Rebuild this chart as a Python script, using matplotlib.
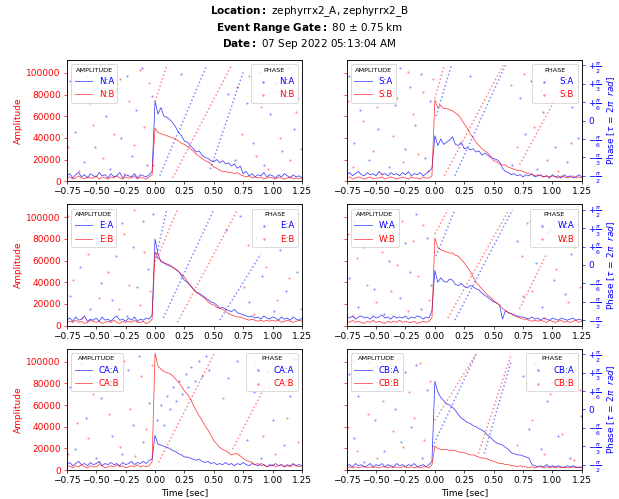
import matplotlib.pyplot as plt
import numpy as np

# sample times of the amplitude traces [sec]
time_sec = [-0.75, -0.725, -0.7, -0.675, -0.65, -0.625, -0.6, -0.575, -0.55, -0.525,
            -0.5, -0.475, -0.45, -0.425, -0.4, -0.375, -0.35, -0.325, -0.3, -0.275,
            -0.25, -0.225, -0.2, -0.175, -0.15, -0.125, -0.1, -0.075, -0.05, -0.025,
            0.0, 0.025, 0.05, 0.075, 0.1, 0.125, 0.15, 0.175, 0.2, 0.225,
            0.25, 0.275, 0.3, 0.325, 0.35, 0.375, 0.4, 0.425, 0.45, 0.475,
            0.5, 0.525, 0.55, 0.575, 0.6, 0.625, 0.65, 0.675, 0.7, 0.725,
            0.75, 0.775, 0.8, 0.825, 0.85, 0.875, 0.9, 0.925, 0.95, 0.975,
            1.0, 1.025, 1.05, 1.075, 1.1, 1.125, 1.15, 1.175, 1.2, 1.225, 1.25]

# amplitudes in thousands
n_a_amp = [5, 7, 3, 6, 8, 4, 6, 3, 7, 5,
           4, 8, 5, 6, 3, 7, 4, 5, 8, 3,
           6, 5, 4, 7, 3, 6, 5, 4, 6, 9, 74,
           62, 68, 60, 59, 57, 54, 50, 45, 42, 37,
           36, 33, 30, 27, 28, 24, 22, 21, 19, 18,
           20, 17, 19, 16, 17, 14, 16, 12, 14, 7,
           9, 5, 7, 4, 6, 5, 8, 4, 6, 5,
           3, 6, 4, 7, 5, 3, 6, 4, 5, 3]
n_b_amp = [3, 4, 2, 3, 5, 3, 2, 4, 3, 3,
           5, 2, 4, 3, 2, 4, 3, 5, 3, 2,
           4, 3, 3, 5, 2, 4, 3, 2, 4, 6, 49,
           45, 44, 43, 42, 41, 40, 39, 37, 35, 34,
           32, 30, 28, 25, 23, 21, 19, 18, 16, 13,
           12, 10, 9, 9, 8, 8, 7, 8, 6, 5,
           4, 5, 3, 4, 3, 4, 2, 3, 4, 3,
           2, 4, 3, 2, 3, 4, 2, 3, 2, 3]
s_a_amp = [6, 8, 5, 7, 9, 6, 5, 8, 6, 7,
           5, 9, 6, 7, 5, 8, 6, 7, 5, 8,
           6, 9, 5, 7, 6, 8, 5, 7, 9, 12, 42,
           33, 39, 34, 36, 38, 41, 34, 33, 36, 30,
           31, 29, 30, 27, 28, 24, 26, 24, 22, 21,
           20, 18, 12, 9, 8, 6, 7, 5, 6, 4,
           6, 5, 7, 4, 5, 6, 4, 5, 3, 6,
           4, 5, 3, 6, 4, 5, 3, 4, 6, 4]
s_b_amp = [3, 4, 2, 3, 4, 3, 2, 3, 4, 2,
           3, 3, 4, 2, 3, 4, 3, 2, 3, 4,
           3, 2, 4, 3, 3, 2, 4, 3, 3, 5, 75,
           68, 70, 67, 67, 66, 65, 63, 61, 57, 53,
           49, 44, 40, 36, 33, 30, 28, 26, 23, 19,
           18, 16, 15, 15, 13, 12, 11, 10, 10, 9,
           8, 7, 6, 5, 6, 5, 4, 5, 4, 5,
           4, 3, 5, 4, 3, 4, 5, 3, 4, 3]
e_a_amp = [5, 7, 4, 8, 5, 6, 9, 4, 6, 5,
           7, 4, 8, 5, 6, 4, 7, 9, 5, 6,
           4, 7, 5, 8, 4, 6, 5, 7, 6, 10, 80,
           66, 59, 58, 56, 55, 54, 52, 50, 46, 42,
           40, 37, 34, 31, 30, 28, 26, 24, 22, 21,
           19, 16, 17, 15, 14, 13, 15, 12, 11, 10,
           9, 8, 9, 7, 8, 6, 9, 7, 6, 8,
           7, 5, 8, 6, 7, 5, 8, 6, 5, 7]
e_b_amp = [3, 4, 3, 5, 3, 4, 2, 3, 5, 4,
           3, 4, 2, 3, 4, 3, 5, 3, 2, 4,
           3, 4, 3, 5, 3, 3, 4, 2, 3, 6, 68,
           62, 60, 58, 57, 56, 54, 52, 50, 47, 45,
           41, 37, 34, 31, 29, 27, 25, 22, 20, 19,
           17, 16, 15, 13, 11, 10, 9, 8, 8, 7,
           6, 5, 6, 5, 4, 5, 4, 5, 4, 5,
           4, 5, 3, 4, 5, 4, 3, 4, 5, 4]
w_a_amp = [8, 7, 9, 6, 8, 9, 7, 8, 6, 9,
           7, 8, 10, 7, 8, 6, 9, 7, 8, 7,
           9, 6, 8, 7, 9, 8, 6, 8, 7, 14, 51,
           40, 44, 41, 40, 43, 42, 38, 37, 39, 36,
           35, 37, 36, 34, 33, 30, 28, 26, 24, 22,
           21, 19, 6, 14, 12, 11, 10, 9, 8, 8,
           7, 6, 8, 6, 7, 5, 7, 6, 5, 7,
           6, 5, 7, 6, 5, 6, 7, 5, 6, 5]
w_b_amp = [4, 3, 5, 3, 4, 3, 2, 4, 3, 5,
           3, 4, 3, 2, 4, 3, 4, 3, 5, 3,
           4, 3, 3, 4, 2, 3, 4, 3, 4, 7, 81,
           72, 70, 69, 68, 67, 67, 65, 64, 61, 58,
           54, 50, 45, 40, 37, 34, 31, 28, 26, 23,
           21, 19, 16, 14, 12, 11, 9, 8, 7, 6,
           6, 5, 4, 5, 4, 5, 4, 3, 5, 4,
           3, 4, 5, 3, 4, 3, 4, 5, 3, 4]
ca_a_amp = [5, 7, 4, 6, 8, 5, 6, 4, 7, 5,
            6, 8, 4, 6, 5, 7, 5, 6, 4, 7,
            5, 6, 8, 5, 7, 6, 8, 6, 9, 10, 32,
            24, 23, 22, 21, 20, 18, 17, 15, 14, 12,
            12, 11, 10, 9, 10, 8, 7, 8, 6, 7,
            5, 6, 5, 7, 5, 6, 4, 6, 5, 7,
            5, 4, 6, 5, 4, 6, 5, 3, 5, 4,
            6, 4, 5, 3, 5, 4, 6, 4, 5, 4]
ca_b_amp = [3, 4, 2, 4, 3, 5, 3, 2, 4, 3,
            3, 5, 4, 2, 3, 4, 3, 5, 3, 4,
            2, 3, 4, 3, 5, 3, 4, 3, 4, 8, 108,
            96, 93, 91, 90, 89, 87, 84, 81, 77, 73,
            70, 66, 60, 55, 50, 46, 41, 37, 32, 27,
            24, 21, 19, 18, 16, 14, 15, 15, 13, 11,
            9, 8, 7, 5, 6, 4, 5, 3, 4, 5,
            3, 4, 5, 3, 4, 3, 5, 4, 3, 4]
cb_a_amp = [4, 5, 3, 6, 4, 5, 3, 4, 6, 3,
            5, 4, 6, 3, 5, 4, 3, 6, 4, 5,
            3, 5, 4, 6, 3, 4, 5, 3, 5, 8, 82,
            72, 67, 64, 61, 60, 58, 55, 51, 48, 46,
            44, 43, 41, 40, 38, 37, 35, 32, 30, 27,
            25, 24, 23, 21, 19, 16, 15, 14, 14, 13,
            12, 11, 5, 4, 3, 4, 3, 5, 3, 4,
            3, 4, 3, 2, 4, 3, 4, 3, 2, 3]
cb_b_amp = [2, 3, 2, 3, 2, 3, 3, 2, 3, 2,
            3, 2, 3, 3, 2, 3, 2, 3, 2, 3,
            3, 2, 3, 2, 3, 2, 3, 3, 2, 5, 22,
            20, 19, 19, 19, 18, 18, 18, 17, 16, 16,
            15, 14, 14, 13, 12, 11, 11, 10, 9, 8,
            7, 6, 6, 5, 5, 4, 4, 3, 4, 3,
            3, 2, 3, 2, 3, 3, 2, 3, 2, 3,
            2, 3, 2, 3, 2, 2, 3, 2, 3, 2]

# phase ramps: (t_start, phase_start, t_end, phase_end), phase in turns (tau)
n_a_ramps = [(0.04, -0.25, 0.44, 0.25), (0.47, -0.22, 0.75, 0.22)]
n_b_ramps = [(0.0, 0.086, 0.10, 0.25), (0.15, -0.26, 0.65, 0.25)]
s_a_ramps = [(0.01, 0.02, 0.14, 0.25), (0.17, -0.25, 0.60, 0.25)]
s_b_ramps = [(0.0, 0.10, 0.08, 0.25), (0.08, -0.25, 0.58, 0.25), (0.72, -0.20, 1.15, 0.22)]
e_a_ramps = [(0.0, 0.015, 0.10, 0.25), (0.07, -0.24, 0.50, 0.25), (0.55, -0.25, 0.90, 0.05)]
e_b_ramps = [(0.016, 0.03, 0.19, 0.25), (0.19, -0.26, 0.70, 0.25)]
w_a_ramps = [(0.01, 0.04, 0.17, 0.25), (0.17, -0.25, 0.66, 0.25)]
w_b_ramps = [(0.0, 0.14, 0.11, 0.25), (0.11, -0.24, 0.63, 0.25), (0.72, -0.20, 0.95, 0.05)]
ca_a_ramps = []
ca_b_ramps = [(0.03, -0.24, 0.50, 0.25), (0.66, -0.18, 0.95, 0.12)]
cb_a_ramps = [(-0.02, -0.17, 0.35, 0.25), (0.42, -0.20, 0.65, 0.22)]
cb_b_ramps = [(0.0, -0.05, 0.35, 0.25), (0.37, -0.20, 0.65, 0.25)]

# scattered phase samples (t, phase in turns)
n_a_dots = [(-0.72, 0.18), (-0.68, -0.05), (-0.63, 0.22), (-0.6, -0.19), (-0.55, 0.08), (-0.51, -0.12),
            (-0.47, 0.25), (-0.42, 0.02), (-0.38, -0.22), (-0.33, 0.14), (-0.29, -0.08), (-0.24, 0.2),
            (-0.2, -0.16), (-0.16, 0.05), (-0.11, 0.24), (-0.07, -0.2), (-0.03, 0.11), (0.22, 0.21),
            (0.62, 0.12), (0.68, -0.18), (0.78, 0.08), (0.83, -0.1), (0.88, 0.22), (0.93, -0.2),
            (0.98, 0.03), (1.03, 0.17), (1.08, -0.14), (1.13, 0.24), (1.18, -0.04), (1.22, 0.1)]
n_b_dots = [(-0.74, -0.12), (-0.7, 0.12), (-0.65, -0.23), (-0.58, 0.2), (-0.53, -0.02), (-0.49, 0.15),
            (-0.44, -0.17), (-0.4, 0.24), (-0.35, -0.06), (-0.3, 0.19), (-0.26, -0.24), (-0.22, 0.09),
            (-0.18, -0.11), (-0.13, 0.23), (-0.09, -0.03), (-0.05, 0.17), (-0.02, -0.2), (0.7, 0.15),
            (0.74, -0.06), (0.8, 0.2), (0.86, -0.16), (0.9, 0.06), (0.96, -0.22), (1.01, 0.13),
            (1.06, -0.08), (1.1, 0.19), (1.15, -0.18), (1.2, 0.04), (1.24, -0.13)]
s_a_dots = [(-0.73, 0.2), (-0.69, -0.1), (-0.64, 0.05), (-0.6, 0.23), (-0.56, -0.18), (-0.52, 0.12),
            (-0.48, -0.04), (-0.43, 0.19), (-0.39, -0.21), (-0.34, 0.07), (-0.3, 0.24), (-0.25, -0.13),
            (-0.21, 0.15), (-0.17, -0.02), (-0.12, 0.21), (-0.08, -0.17), (-0.04, 0.09), (0.3, 0.2),
            (0.66, -0.2), (0.72, 0.1), (0.77, -0.06), (0.82, 0.18), (0.87, -0.22), (0.92, 0.04),
            (0.97, 0.22), (1.02, -0.12), (1.07, 0.13), (1.12, -0.19), (1.17, 0.06), (1.22, -0.08)]
s_b_dots = [(-0.74, 0.09), (-0.7, -0.21), (-0.66, 0.16), (-0.61, 0.0), (-0.57, 0.24), (-0.53, -0.14),
            (-0.49, 0.06), (-0.45, -0.24), (-0.41, 0.17), (-0.36, -0.07), (-0.32, 0.1), (-0.27, -0.19),
            (-0.23, 0.22), (-0.19, 0.03), (-0.14, -0.15), (-0.1, 0.13), (-0.06, -0.23), (-0.02, 0.19),
            (0.65, 0.16), (0.7, -0.12), (0.76, 0.21), (0.84, -0.03), (0.9, 0.14), (0.95, -0.18),
            (1.0, 0.09), (1.05, -0.23), (1.11, 0.2), (1.16, -0.1), (1.21, 0.15)]
e_a_dots = [(-0.72, -0.14), (-0.68, 0.17), (-0.64, -0.01), (-0.59, 0.21), (-0.55, -0.2), (-0.5, 0.1),
            (-0.46, -0.08), (-0.42, 0.24), (-0.37, -0.16), (-0.33, 0.04), (-0.28, 0.19), (-0.24, -0.23),
            (-0.19, 0.08), (-0.15, -0.1), (-0.1, 0.2), (-0.06, -0.02), (-0.02, 0.23), (0.6, 0.16),
            (0.72, 0.22), (0.8, -0.17), (0.86, 0.12), (0.91, -0.05), (0.96, 0.18), (1.01, -0.21),
            (1.06, 0.07), (1.11, -0.12), (1.16, 0.21), (1.21, -0.03)]
e_b_dots = [(-0.74, 0.22), (-0.7, -0.07), (-0.66, 0.13), (-0.62, -0.24), (-0.57, 0.05), (-0.53, 0.19),
            (-0.48, -0.15), (-0.44, 0.11), (-0.4, -0.03), (-0.35, 0.23), (-0.31, -0.2), (-0.26, 0.14),
            (-0.22, -0.09), (-0.18, 0.25), (-0.13, -0.18), (-0.09, 0.06), (-0.04, -0.12), (0.76, -0.1),
            (0.79, 0.09), (0.84, -0.22), (0.89, 0.17), (0.94, -0.01), (0.99, 0.23), (1.04, -0.16),
            (1.09, 0.12), (1.14, -0.06), (1.19, 0.19), (1.24, -0.2)]
w_a_dots = [(-0.73, -0.06), (-0.69, 0.2), (-0.65, -0.19), (-0.61, 0.08), (-0.56, 0.25), (-0.52, -0.11),
            (-0.47, 0.14), (-0.43, -0.22), (-0.39, 0.02), (-0.34, 0.18), (-0.3, -0.15), (-0.25, 0.1),
            (-0.21, -0.03), (-0.16, 0.23), (-0.12, -0.2), (-0.07, 0.12), (-0.03, -0.09), (0.7, 0.11),
            (0.75, -0.14), (0.81, 0.2), (0.86, 0.01), (0.91, -0.19), (0.96, 0.15), (1.01, -0.07),
            (1.06, 0.22), (1.11, -0.13), (1.16, 0.05), (1.21, 0.18)]
w_b_dots = [(-0.74, 0.14), (-0.7, -0.23), (-0.66, 0.03), (-0.62, 0.21), (-0.58, -0.09), (-0.54, 0.16),
            (-0.5, -0.17), (-0.45, 0.06), (-0.41, 0.24), (-0.37, -0.12), (-0.32, 0.0), (-0.28, 0.2),
            (-0.23, -0.21), (-0.19, 0.11), (-0.14, -0.05), (-0.1, 0.18), (-0.05, -0.16), (0.74, 0.04),
            (0.78, 0.19), (0.83, -0.12), (0.88, 0.1), (0.93, -0.24), (0.98, 0.16), (1.03, -0.02),
            (1.08, 0.21), (1.13, -0.17), (1.18, 0.08), (1.23, -0.1)]
ca_a_dots = [(-0.72, 0.1), (-0.68, -0.18), (-0.63, 0.21), (-0.59, -0.04), (-0.55, 0.15), (-0.5, -0.22),
             (-0.46, 0.05), (-0.41, 0.23), (-0.37, -0.12), (-0.32, 0.12), (-0.28, -0.2), (-0.23, 0.18),
             (-0.19, -0.07), (-0.14, 0.24), (-0.1, -0.15), (-0.05, 0.03), (0.02, -0.05), (0.05, 0.02),
             (0.08, -0.07), (0.1, 0.06), (0.13, 0.0), (0.15, 0.1), (0.18, 0.04), (0.2, 0.13),
             (0.23, 0.07), (0.26, 0.16), (0.28, 0.1), (0.31, 0.19), (0.34, 0.13), (0.37, 0.22),
             (0.4, 0.15), (0.43, 0.24), (0.46, 0.18), (0.62, 0.14), (0.7, 0.22), (0.78, -0.14),
             (0.84, 0.08), (0.9, -0.22), (0.95, 0.17), (1.0, -0.05), (1.05, 0.2), (1.1, -0.16),
             (1.15, 0.06), (1.2, 0.23)]
ca_b_dots = [(-0.74, -0.2), (-0.7, 0.16), (-0.66, -0.06), (-0.61, 0.24), (-0.57, -0.13), (-0.53, 0.07),
             (-0.48, -0.24), (-0.44, 0.19), (-0.39, -0.02), (-0.35, 0.13), (-0.3, -0.17), (-0.26, 0.22),
             (-0.21, 0.0), (-0.17, -0.21), (-0.12, 0.15), (-0.08, -0.09), (-0.03, 0.2), (0.58, 0.05),
             (0.85, 0.2), (0.92, -0.12), (0.97, 0.1), (1.02, -0.2), (1.07, 0.17), (1.12, -0.04),
             (1.17, 0.23), (1.22, -0.15)]
cb_a_dots = [(-0.73, 0.16), (-0.69, -0.13), (-0.65, 0.06), (-0.6, -0.24), (-0.56, 0.21), (-0.51, -0.05),
             (-0.47, 0.12), (-0.43, -0.19), (-0.38, 0.24), (-0.34, 0.0), (-0.29, -0.15), (-0.25, 0.17),
             (-0.2, -0.08), (-0.16, 0.2), (-0.11, -0.22), (-0.07, 0.09), (0.75, 0.15), (0.8, -0.09),
             (0.85, 0.21), (0.9, -0.18), (0.95, 0.04), (1.0, 0.19), (1.05, -0.12), (1.1, 0.1),
             (1.15, -0.22), (1.2, 0.14), (1.24, -0.03)]
cb_b_dots = [(-0.74, -0.08), (-0.7, 0.22), (-0.66, -0.19), (-0.62, 0.1), (-0.57, -0.02), (-0.53, 0.19),
             (-0.49, -0.22), (-0.44, 0.04), (-0.4, 0.16), (-0.36, -0.1), (-0.31, 0.23), (-0.27, -0.17),
             (-0.22, 0.08), (-0.18, -0.04), (-0.13, 0.21), (-0.09, -0.14), (-0.04, 0.13), (0.7, -0.16),
             (0.78, 0.12), (0.83, -0.05), (0.88, 0.2), (0.93, -0.2), (0.98, 0.07), (1.03, 0.24),
             (1.08, -0.11), (1.13, 0.14), (1.18, -0.23), (1.23, 0.09)]

x_ticks = [-0.75, -0.5, -0.25, 0.0, 0.25, 0.5, 0.75, 1.0, 1.25]
phase_ticks = [-1 / 4, -1 / 6, -1 / 12, 0, 1 / 12, 1 / 6, 1 / 4]
phase_labels = [r'$-\frac{\pi}{2}$', r'$-\frac{\pi}{3}$', r'$-\frac{\pi}{6}$', '0',
                r'$+\frac{\pi}{6}$', r'$+\frac{\pi}{3}$', r'$+\frac{\pi}{2}$']

panels = [
    ("N", n_a_amp, n_b_amp, n_a_ramps, n_b_ramps, n_a_dots, n_b_dots),
    ("S", s_a_amp, s_b_amp, s_a_ramps, s_b_ramps, s_a_dots, s_b_dots),
    ("E", e_a_amp, e_b_amp, e_a_ramps, e_b_ramps, e_a_dots, e_b_dots),
    ("W", w_a_amp, w_b_amp, w_a_ramps, w_b_ramps, w_a_dots, w_b_dots),
    ("CA", ca_a_amp, ca_b_amp, ca_a_ramps, ca_b_ramps, ca_a_dots, ca_b_dots),
    ("CB", cb_a_amp, cb_b_amp, cb_a_ramps, cb_b_ramps, cb_a_dots, cb_b_dots),
]

fig, axes = plt.subplots(3, 2, figsize=(10.0, 499 / 61.9), dpi=61.9)
fig.subplots_adjust(left=0.108, right=0.940, bottom=0.058, top=0.880, wspace=0.19, hspace=0.19)

for i, (name, amp_a, amp_b, ramps_a, ramps_b, dots_a, dots_b) in enumerate(panels):
    ax = axes[i // 2, i % 2]
    right_col = i % 2 == 1

    line_a, = ax.plot(time_sec, np.array(amp_a) * 1000, color='blue', lw=0.9, alpha=0.75)
    line_b, = ax.plot(time_sec, np.array(amp_b) * 1000, color='red', lw=0.9, alpha=0.75)
    ax.set_xlim(-0.75, 1.25)
    ax.set_ylim(0, 112000)
    ax.set_xticks(x_ticks)
    ax.set_yticks([0, 20000, 40000, 60000, 80000, 100000])
    ax.tick_params(axis='both', labelsize=10.5)
    ax.tick_params(axis='y', colors='red')
    if right_col:
        ax.tick_params(axis='y', labelleft=False)
    else:
        ax.set_ylabel('Amplitude', color='red', fontsize=10.5)
    if i >= 4:
        ax.set_xlabel('Time [sec]', fontsize=10.5)

    # phase on a twin axis
    ax2 = ax.twinx()
    for t0, p0, t1, p1 in ramps_a:
        ax2.plot([t0, t1], [p0, p1], color='blue', ls=':', lw=1.7, alpha=0.5)
    for t0, p0, t1, p1 in ramps_b:
        ax2.plot([t0, t1], [p0, p1], color='red', ls=':', lw=1.7, alpha=0.5)
    sc_a = ax2.scatter([d[0] for d in dots_a], [d[1] for d in dots_a], s=6, color='blue', alpha=0.45, lw=0)
    sc_b = ax2.scatter([d[0] for d in dots_b], [d[1] for d in dots_b], s=6, color='red', alpha=0.45, lw=0)
    ax2.set_ylim(-0.275, 0.275)
    if right_col:
        ax2.set_yticks(phase_ticks)
        ax2.set_yticklabels(phase_labels)
        ax2.tick_params(axis='y', colors='blue', labelsize=10.5)
        ax2.set_ylabel(r'Phase [$\tau\,=\,2\pi\ \ rad$]', color='blue', fontsize=10.5)
    else:
        ax2.set_yticks([])

    leg1 = ax2.legend([line_a, line_b], [f'{name}:A', f'{name}:B'], title='AMPLITUDE',
                      loc='upper left', fontsize=10, title_fontsize=7.5)
    for txt, c in zip(leg1.get_texts(), ['blue', 'red']):
        txt.set_color(c)
    ax2.add_artist(leg1)
    leg2 = ax2.legend([sc_a, sc_b], [f'{name}:A', f'{name}:B'], title='PHASE',
                      loc='upper right', fontsize=10, title_fontsize=7.5, markerscale=1.2)
    for txt, c in zip(leg2.get_texts(), ['blue', 'red']):
        txt.set_color(c)

fig.text(0.5, 0.976, r'$\bf{Location:}$ zephyrrx2_A, zephyrrx2_B', ha='center', va='center', fontsize=12)
fig.text(0.5, 0.944, r'$\bf{Event\ Range\ Gate:}$ 80 ± 0.75 km', ha='center', va='center', fontsize=12)
fig.text(0.5, 0.912, r'$\bf{Date:}$ 07 Sep 2022 05:13:04 AM', ha='center', va='center', fontsize=12)

fig.savefig('out.png', dpi=61.9)
